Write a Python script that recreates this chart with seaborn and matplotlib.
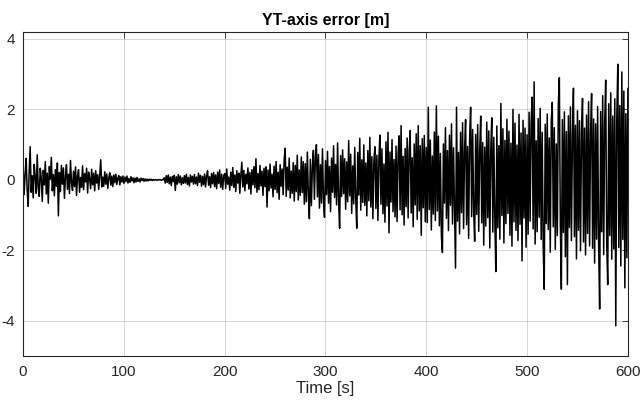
import numpy as np
import pandas as pd
import matplotlib
matplotlib.use("Agg")
import matplotlib.pyplot as plt
import seaborn as sns

# YT-axis error [m], one sample per second
err_000 = [0.35, -0.42, 0.18, 0.61, -0.28, -0.75, 0.22, 0.94, -0.35, 0.12,
           -0.51, 0.44, 0.08, -0.38, 0.71, -0.22, -0.47, 0.33, 0.05, -0.61,
           0.27, -0.14, 0.52, -0.40, 0.19, -0.66, 0.38, 0.02, 0.64, -0.31,
           0.15, -0.45, 0.29, -0.18, 0.48, -1.02, 0.21, -0.33, 0.41, -0.12,
           0.34, -0.52, 0.09, 0.43, -0.27, 0.16, -0.39, 0.55, -0.08, -0.30,
           0.25, -0.19, 0.37, -0.44, 0.11, 0.29, -0.35, 0.07, -0.21, 0.40,
           -0.28, 0.18, -0.06, 0.33, -0.37, 0.22, 0.04, -0.25, 0.30, -0.14,
           0.19, -0.31, 0.26, -0.09, 0.15, -0.27, 0.12, 0.57, -0.20, 0.08,
           -0.18, 0.23, -0.12, 0.17, -0.24, 0.06, 0.20, -0.15, 0.11, -0.19,
           0.14, -0.08, 0.16, -0.13, 0.05, 0.12, -0.14, 0.09, -0.06, 0.11]
err_100 = [-0.10, 0.08, -0.05, 0.11, -0.09, 0.04, -0.07, 0.09, -0.03, 0.06,
           -0.08, 0.05, -0.06, 0.07, -0.04, 0.03, -0.06, 0.05, -0.02, 0.04,
           -0.04, 0.03, -0.03, 0.02, -0.03, 0.02, -0.01, 0.02, -0.02, 0.01,
           -0.01, 0.01, 0.00, -0.01, 0.01, 0.00, 0.01, -0.01, 0.00, 0.01,
           0.06, -0.09, 0.12, -0.07, 0.14, -0.11, 0.08, -0.16, 0.10, -0.05,
           0.13, -0.30, 0.09, -0.12, 0.15, -0.08, 0.11, -0.14, 0.06, -0.10,
           0.12, -0.09, 0.16, -0.13, 0.07, -0.17, 0.14, -0.06, 0.10, -0.12,
           0.15, -0.11, 0.08, -0.16, 0.19, -0.07, 0.13, -0.18, 0.10, -0.14,
           0.17, -0.20, 0.12, 0.26, -0.15, 0.09, -0.22, 0.18, -0.11, 0.21,
           -0.19, 0.14, -0.25, 0.22, -0.10, 0.28, -0.21, 0.16, -0.27, 0.12]
err_200 = [0.18, -0.24, 0.31, -0.12, 0.08, -0.29, 0.22, -0.16, 0.35, -0.21,
           0.14, -0.33, 0.26, -0.09, 0.19, -0.38, 0.12, 0.50, -0.20, 0.27,
           -0.31, 0.16, -0.11, 0.34, -0.26, 0.21, -0.40, 0.29, -0.14, 0.38,
           -0.22, 0.60, -0.35, 0.18, -0.28, 0.41, -0.17, 0.25, -0.44, 0.33,
           -0.19, 0.37, -0.77, 0.28, -0.31, 0.45, -0.23, 0.16, -0.48, 0.39,
           -0.27, 0.52, -0.36, 0.22, -0.55, 0.43, -0.18, 0.31, -0.42, 0.58,
           0.90, -0.47, 0.36, -0.29, 0.62, -0.51, 0.25, -0.38, 0.49, -0.60,
           0.41, -0.33, 0.70, -0.57, 0.28, -0.44, 0.65, -0.36, 0.52, -0.69,
           0.46, -0.62, 0.79, -0.41, -1.10, 0.58, -0.73, 0.37, 0.84, -0.55,
           0.67, 1.00, -0.48, 0.72, -0.80, 0.43, -0.66, 0.88, -0.58, -1.06]
err_300 = [0.55, -0.42, 0.81, -0.66, 0.38, -0.90, 0.62, -0.35, 0.97, -0.50,
           0.44, -0.71, 1.05, -0.58, -1.37, 0.69, -0.47, 0.85, -0.39, 0.60,
           -0.83, 0.51, -0.62, 1.12, -0.45, 0.73, -0.95, 0.40, -0.68, 0.92,
           -0.54, -1.37, 0.78, -0.43, 1.18, -0.86, 0.57, -0.64, 0.99, -0.72,
           0.48, -1.02, 0.83, -0.59, 1.21, -0.77, 0.66, -1.10, 0.52, 0.94,
           -0.81, 0.70, -1.15, 0.61, 1.27, -0.69, 0.88, -0.96, 0.45, -1.20,
           1.08, -0.74, 1.35, -1.50, 0.79, -0.63, 1.14, -0.90, 0.58, -1.05,
           0.96, -1.18, 0.71, 1.25, -0.85, 1.54, -0.99, 0.67, -1.28, 0.89,
           -0.76, 1.19, -1.08, 0.82, 1.40, -0.94, 0.63, -1.33, 1.02, -0.71,
           1.31, -1.12, 1.54, -0.88, 0.97, -1.57, 1.17, -0.79, 1.26, -1.19]
err_400 = [0.92, -1.21, 2.06, -0.84, 1.13, -1.42, 0.68, -0.97, 1.36, -1.15,
           2.10, -0.88, 1.24, -1.30, 0.75, -1.61, -2.06, 1.02, -0.66, 1.48,
           -1.09, 0.83, -1.44, 1.27, -0.72, 1.59, -1.25, 0.91, -0.80, -2.50,
           2.06, -1.17, 0.78, -1.53, 1.35, -0.93, 1.62, -1.38, 0.86, 1.71,
           -1.27, 0.95, -1.66, 1.18, 2.06, -1.04, 1.43, -0.87, -1.74, 1.29,
           -0.98, 1.57, -1.46, 0.82, 1.81, -1.22, 1.06, -1.85, 0.93, -1.31,
           1.64, -1.07, 1.39, -1.93, 0.89, 1.76, -1.48, 1.21, -1.12, -2.60,
           1.53, -1.36, 0.97, -1.68, 2.17, -1.01, 1.45, -1.79, 1.12, -1.24,
           1.72, -0.95, 1.38, -1.57, 1.04, -1.88, 2.00, -1.19, 1.61, -1.43,
           0.99, -1.72, 1.86, -1.26, 1.33, -2.30, 1.69, -1.08, 1.47, -1.91]
err_500 = [1.28, -1.54, 1.92, -1.17, 1.63, 2.35, -1.39, 2.78, -1.82, 1.11,
           -1.47, 1.74, -1.06, 2.03, -1.69, 1.35, -1.92, -3.10, 1.58, -1.24,
           1.87, -1.41, 1.19, -2.05, 1.66, 2.20, -1.33, 1.48, -1.97, 1.02,
           -1.58, 2.14, 2.90, -1.26, -3.10, 1.71, -1.49, 1.93, -2.18, 1.37,
           -2.97, 1.82, -1.35, 2.07, -1.72, 1.24, 2.60, -1.61, 1.55, -2.24,
           1.96, -1.43, 1.68, -2.01, 1.29, 2.31, -1.76, 1.47, -2.13, 1.84,
           -1.52, 2.22, -1.87, 1.38, 2.45, -1.94, 1.73, -2.36, 1.59, -1.68,
           2.08, -1.85, -3.66, 1.94, -1.47, 2.39, -2.12, 1.62, 2.83, -1.79,
           -2.97, 2.16, -1.58, 2.47, -2.25, 1.81, -1.96, 2.30, -4.14, 1.73,
           3.28, -1.92, 2.11, -2.44, 3.06, -1.69, 2.52, -3.06, 1.88, -2.21,
           2.60]

x_ticks = [0, 100, 200, 300, 400, 500, 600]
y_ticks = [-4, -2, 0, 2, 4]
title = "YT-axis error [m]"
x_label = "Time [s]"

err = err_000 + err_100 + err_200 + err_300 + err_400 + err_500
df = pd.DataFrame({"t": np.arange(len(err)), "err": err})

sns.set_style("white")
plt.rcParams["font.family"] = ["Liberation Sans", "DejaVu Sans"]

fig = plt.figure(figsize=(6.42, 4.08), dpi=100)
ax = fig.add_axes([0.036, 0.127, 0.942, 0.795])
sns.lineplot(data=df, x="t", y="err", ax=ax, color="black", linewidth=1.1,
             estimator=None)

ax.set_xlim(0, 600)
ax.set_ylim(-5, 4.2)
ax.set_xticks(x_ticks)
ax.set_yticks(y_ticks)
ax.set_xticklabels([str(v) for v in x_ticks])
ax.set_yticklabels([str(v) for v in y_ticks])
ax.grid(True, color="#262626", alpha=0.18, linewidth=0.7)
ax.set_axisbelow(True)
for s in ax.spines.values():
    s.set_visible(True)
    s.set_color("#262626")
    s.set_linewidth(0.8)
ax.tick_params(direction="in", length=4, width=0.6, colors="#262626",
               labelsize=11, top=True, right=True, pad=6)
ax.set_title(title, fontsize=11.5, fontweight="bold", color="black", pad=5)
ax.set_xlabel(x_label, fontsize=12, color="#262626", labelpad=2)
ax.set_ylabel("")

fig.savefig("out.png", dpi=100, facecolor="white")
